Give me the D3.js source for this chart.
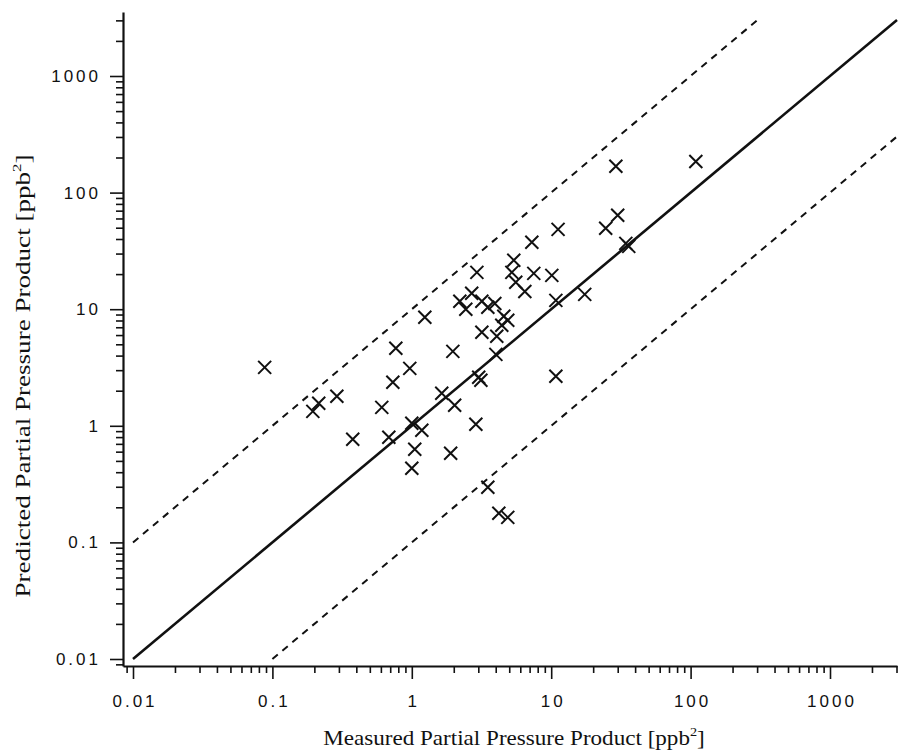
<!DOCTYPE html>
<html>
<head>
<meta charset="utf-8">
<script src="https://cdn.jsdelivr.net/npm/d3@7"></script>
<style>
  body { margin: 0; background: #fff; }
  .tick text { font-family: "Liberation Sans", Arial, sans-serif; font-size: 17px; letter-spacing: 3px; fill: #111; }
  .axisTitle { font-family: "Liberation Serif", "Times New Roman", serif; font-size: 21px; fill: #111; }
</style>
</head>
<body>
<div id="chart"></div>
<script>
// measured vs predicted partial pressure product (ppb^2)
var measured = [0.088, 0.195, 0.215, 0.29, 0.377, 0.609, 0.684, 0.731, 0.768, 0.967,
  1.0, 1.18, 1.05, 1.0, 1.64, 1.97, 2.03, 1.9, 2.88, 3.02,
  3.13, 1.24, 2.21, 2.44, 2.69, 2.93, 3.18, 3.51, 3.94, 4.57,
  4.88, 4.42, 3.18, 4.07, 4.01, 5.39, 5.22, 5.57, 6.47, 7.5,
  10.1, 10.8, 7.26, 11.2, 17.4, 10.8, 3.51, 4.21, 4.88, 24.6,
  30.0, 34.3, 36.0, 29.1, 109];
var predicted = [3.17, 1.33, 1.56, 1.79, 0.766, 1.44, 0.797, 2.36, 4.62, 3.11,
  1.05, 0.915, 0.629, 0.432, 1.9, 4.35, 1.5, 0.581, 1.03, 2.61,
  2.46, 8.52, 11.7, 9.98, 13.7, 20.7, 11.7, 10.4, 11.2, 8.69,
  8.03, 7.28, 6.34, 5.86, 4.1, 26.3, 20.7, 17.0, 14.2, 20.3,
  19.5, 11.9, 37.5, 48.4, 13.4, 2.66, 0.297, 0.178, 0.164, 49.4,
  63.9, 36.7, 34.6, 168, 185];
var decades = [0.01, 0.1, 1, 10, 100, 1000];
var decadeLabels = ["0.01", "0.1", "1", "10", "100", "1000"];

var svgWidth = 900, svgHeight = 752;
var svg = d3.select("#chart").append("svg").attr("width", svgWidth).attr("height", svgHeight);

// scales calibrated on the decade ticks, then stretched out to the axis ends
var x = d3.scaleLog().domain([0.01, 1000]).range([133, 830]);
x.domain([x.invert(123), x.invert(897)]).range([123, 897]);
var y = d3.scaleLog().domain([0.01, 1000]).range([659, 76]);
y.domain([y.invert(666), y.invert(12)]).range([666, 12]);

// all 1..9 ticks inside the domain
function logTicks(sc) {
  var d = sc.domain(), out = [];
  for (var e = -3; e <= 4; e++) {
    for (var m = 1; m <= 9; m++) {
      var v = m * Math.pow(10, e);
      if (v >= d[0] && v <= d[1]) out.push(+v.toPrecision(3));
    }
  }
  return out;
}
function isMajor(v) { return decades.some(function(d) { return Math.abs(d - v) / d < 1e-6; }); }
function label(v) { var i = decades.findIndex(function(d) { return Math.abs(d - v) / d < 1e-6; }); return i < 0 ? "" : decadeLabels[i]; }

var xAxis = svg.append("g")
  .attr("transform", "translate(0,666)")
  .call(d3.axisBottom(x).tickValues(logTicks(x)).tickFormat(label).tickSizeOuter(0));
xAxis.select(".domain").attr("stroke-width", 2.2).attr("stroke", "#111");
xAxis.selectAll(".tick line").attr("y2", function(d) { return isMajor(d) ? 13 : 7; })
  .attr("stroke-width", 1.6).attr("stroke", "#111");
xAxis.selectAll(".tick text").attr("y", 41).attr("dy", 0).attr("dx", 1.5);

var yAxis = svg.append("g")
  .attr("transform", "translate(123,0)")
  .call(d3.axisLeft(y).tickValues(logTicks(y)).tickFormat(label).tickSizeOuter(0));
yAxis.select(".domain").attr("stroke-width", 2.2).attr("stroke", "#111");
yAxis.selectAll(".tick line").attr("x2", function(d) { return isMajor(d) ? -13 : -7; })
  .attr("stroke-width", 1.6).attr("stroke", "#111");
yAxis.selectAll(".tick text").attr("x", -22);

// 1:1 line and factor-of-ten bounds
var xMax = x.domain()[1], yTop = 3000;
var refLines = [
  {pts: [[0.01, 0.01], [xMax, xMax]], dash: null},
  {pts: [[0.01, 0.1], [yTop / 10, yTop]], dash: "7,6"},
  {pts: [[0.1, 0.01], [xMax, xMax / 10]], dash: "7,6"}
];
var line = d3.line().x(function(d) { return x(d[0]); }).y(function(d) { return y(d[1]); });
svg.selectAll(".ref").data(refLines).enter().append("path")
  .attr("class", "ref")
  .attr("d", function(d) { return line(d.pts); })
  .attr("fill", "none")
  .attr("stroke", "#111")
  .attr("stroke-width", function(d) { return d.dash ? 2 : 2.6; })
  .attr("stroke-dasharray", function(d) { return d.dash; });

// x markers
var s = 6.5;
svg.selectAll(".pt").data(measured).enter().append("path")
  .attr("class", "pt")
  .attr("transform", function(d, i) { return "translate(" + x(d) + "," + y(predicted[i]) + ")"; })
  .attr("d", "M" + -s + "," + -s + "L" + s + "," + s + "M" + -s + "," + s + "L" + s + "," + -s)
  .attr("stroke", "#111")
  .attr("stroke-width", 2);

// axis titles (stretched a bit along the reading direction, like the scan)
var xt = svg.append("text").attr("class", "axisTitle")
  .attr("transform", "translate(514,745) scale(1.1,1)").attr("text-anchor", "middle");
xt.append("tspan").text("Measured Partial Pressure Product [ppb");
xt.append("tspan").attr("font-size", "13px").attr("dy", -9).text("2");
xt.append("tspan").attr("dy", 9).text("]");

var yt = svg.append("text").attr("class", "axisTitle")
  .attr("transform", "translate(30,376) rotate(-90) scale(1.29,1)").attr("text-anchor", "middle");
yt.append("tspan").text("Predicted Partial Pressure Product [ppb");
yt.append("tspan").attr("font-size", "13px").attr("dy", -9).text("2");
yt.append("tspan").attr("dy", 9).text("]");
</script>
</body>
</html>
